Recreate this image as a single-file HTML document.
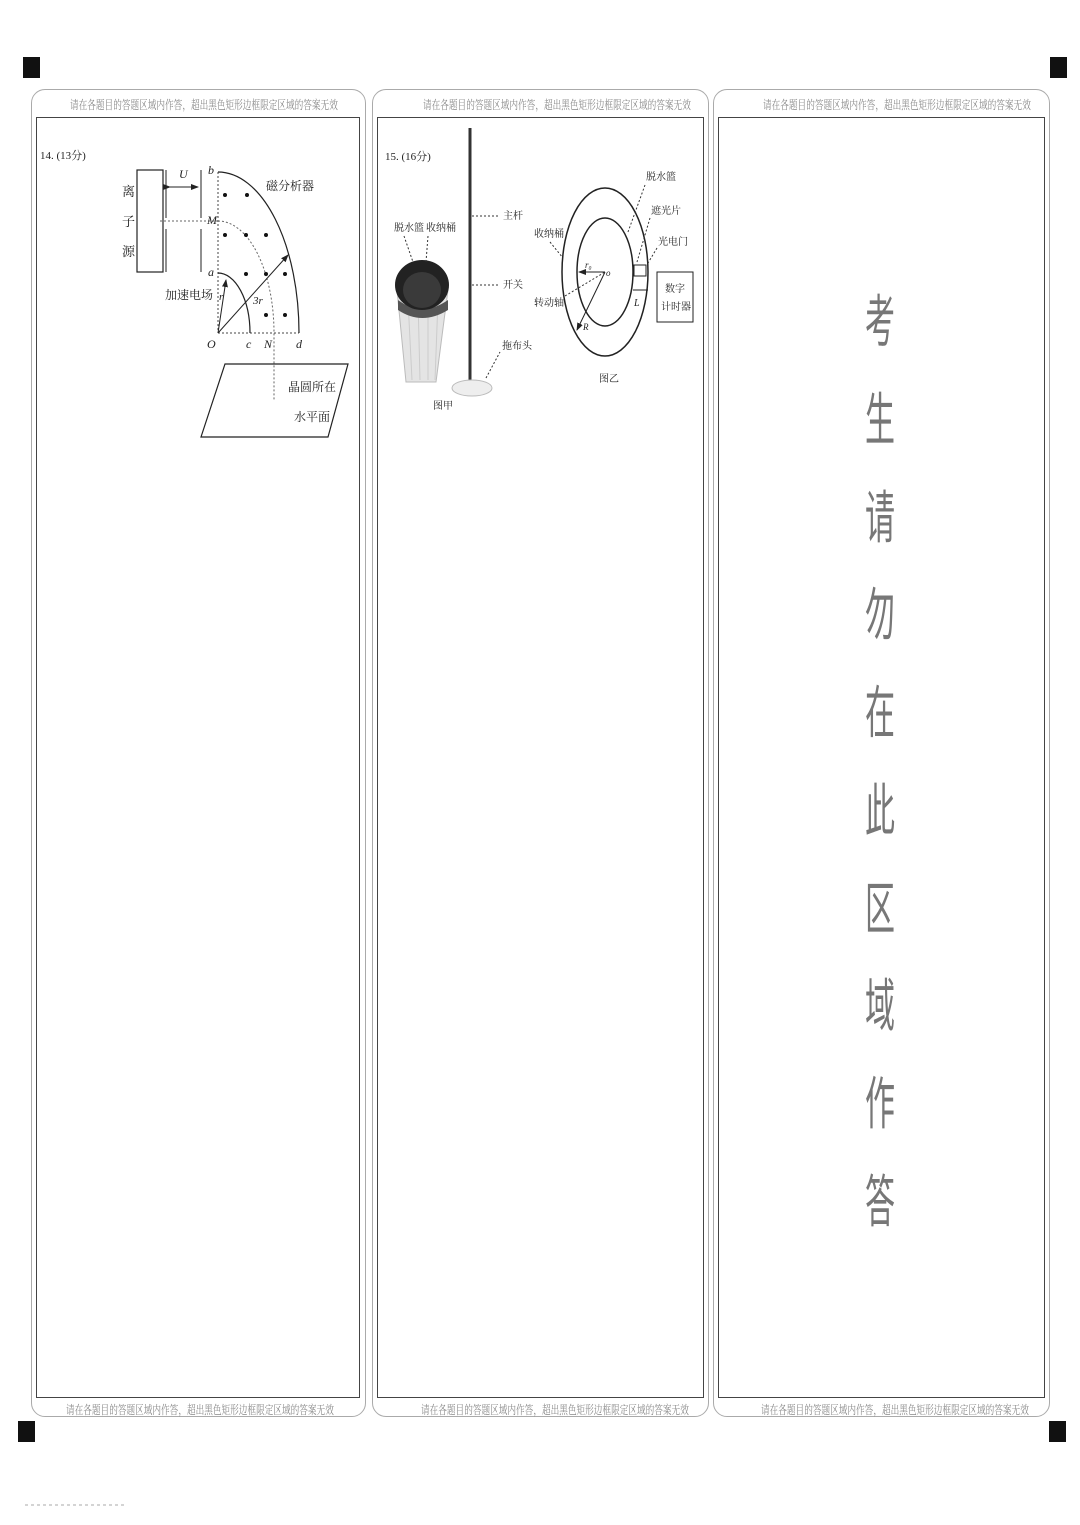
<!DOCTYPE html>
<html><head><meta charset="utf-8">
<style>
html,body{margin:0;padding:0;background:#fff;}
body{width:1080px;height:1525px;position:relative;overflow:hidden;font-family:"Liberation Serif","Noto Serif CJK SC","Noto Sans CJK SC",serif;}
.sq{position:absolute;background:#111;width:17px;height:21px;}
.outer{position:absolute;border:1.5px solid #aaa;border-radius:14px;}
.inner{position:absolute;border:1.5px solid #444;}
.hd{position:absolute;font-size:12px;color:#888;white-space:nowrap;transform-origin:0 0;transform:scaleX(0.72);}
.big{position:absolute;left:864px;width:32px;text-align:center;font-family:"Noto Sans CJK SC",sans-serif;font-size:30px;color:#777;transform:scaleY(1.9);transform-origin:50% 50%;line-height:30px;}
</style></head><body>
<div class="sq" style="left:23px;top:57px"></div>
<div class="sq" style="left:1050px;top:57px"></div>
<div class="sq" style="left:18px;top:1421px"></div>
<div class="sq" style="left:1049px;top:1421px"></div>

<div class="outer" style="left:31px;top:89px;width:333px;height:1326px"></div>
<div class="inner" style="left:36px;top:117px;width:322px;height:1279px"></div>
<div class="outer" style="left:372px;top:89px;width:335px;height:1326px"></div>
<div class="inner" style="left:377px;top:117px;width:325px;height:1279px"></div>
<div class="outer" style="left:713px;top:89px;width:335px;height:1326px"></div>
<div class="inner" style="left:718px;top:117px;width:325px;height:1279px"></div>

<div class="hd" style="left:70px;top:96px">请在各题目的答题区域内作答，超出黑色矩形边框限定区域的答案无效</div>
<div class="hd" style="left:423px;top:96px">请在各题目的答题区域内作答，超出黑色矩形边框限定区域的答案无效</div>
<div class="hd" style="left:763px;top:96px">请在各题目的答题区域内作答，超出黑色矩形边框限定区域的答案无效</div>
<div class="hd" style="left:66px;top:1401px">请在各题目的答题区域内作答，超出黑色矩形边框限定区域的答案无效</div>
<div class="hd" style="left:421px;top:1401px">请在各题目的答题区域内作答，超出黑色矩形边框限定区域的答案无效</div>
<div class="hd" style="left:761px;top:1401px">请在各题目的答题区域内作答，超出黑色矩形边框限定区域的答案无效</div>

<div class="big" style="top:302px">考</div>
<div class="big" style="top:400px">生</div>
<div class="big" style="top:498px">请</div>
<div class="big" style="top:595px">勿</div>
<div class="big" style="top:693px">在</div>
<div class="big" style="top:791px">此</div>
<div class="big" style="top:889px">区</div>
<div class="big" style="top:986px">域</div>
<div class="big" style="top:1084px">作</div>
<div class="big" style="top:1182px">答</div>

<svg style="position:absolute;left:0;top:0" width="1080" height="1525">
<defs>
<marker id="ar" markerWidth="8" markerHeight="8" refX="7" refY="4" orient="auto"><path d="M0,1 L8,4 L0,7 z" fill="#222"/></marker>
</defs>
<line x1="25" y1="1505" x2="125" y2="1505" stroke="#aaa" stroke-dasharray="3,3"/>
<g font-family="Liberation Serif,Noto Serif CJK SC,serif" fill="#222" font-size="11">
<text x="40" y="159">14. (13分)</text>
<rect x="137" y="170" width="26" height="102" fill="none" stroke="#222" stroke-width="1.2"/>
<line x1="166" y1="170" x2="166" y2="218" stroke="#222"/><line x1="166" y1="229" x2="166" y2="272" stroke="#222"/>
<line x1="201" y1="170" x2="201" y2="218" stroke="#222"/><line x1="201" y1="229" x2="201" y2="272" stroke="#222"/>
<line x1="170" y1="187" x2="198" y2="187" stroke="#222" marker-end="url(#ar)" marker-start="url(#ar)"/>
<text x="179" y="178" font-style="italic" font-size="12">U</text>
<text x="122" y="196" font-size="13">离</text><text x="122" y="226" font-size="13">子</text><text x="122" y="256" font-size="13">源</text>
<text x="165" y="299" font-size="12">加速电场</text>
<text x="266" y="190" font-size="12">磁分析器</text>
<line x1="218" y1="172" x2="218" y2="333" stroke="#444" stroke-dasharray="2,2"/>
<line x1="218" y1="333" x2="299" y2="333" stroke="#444" stroke-dasharray="2,2"/>
<line x1="160" y1="221" x2="218" y2="221" stroke="#666" stroke-dasharray="2,2"/>
<path d="M218,172 A81,161 0 0 1 299,333" fill="none" stroke="#222" stroke-width="1.2"/>
<path d="M218,273 A32,60 0 0 1 250,333" fill="none" stroke="#222" stroke-width="1.2"/>
<path d="M218,221 A56,112 0 0 1 274,333 L274,400" fill="none" stroke="#666" stroke-dasharray="2,2"/>
<g fill="#111">
<circle cx="225" cy="195" r="2"/><circle cx="247" cy="195" r="2"/>
<circle cx="225" cy="235" r="2"/><circle cx="246" cy="235" r="2"/><circle cx="266" cy="235" r="2"/>
<circle cx="246" cy="274" r="2"/><circle cx="266" cy="274" r="2"/><circle cx="285" cy="274" r="2"/>
<circle cx="266" cy="315" r="2"/><circle cx="285" cy="315" r="2"/>
</g>
<line x1="218" y1="333" x2="226" y2="280" stroke="#222" marker-end="url(#ar)"/>
<line x1="218" y1="333" x2="288" y2="255" stroke="#222" marker-end="url(#ar)"/>
<text x="219" y="300" font-style="italic">r</text><text x="253" y="304" font-style="italic">3r</text>
<g font-style="italic" font-size="12">
<text x="208" y="174">b</text><text x="207" y="224">M</text><text x="208" y="276">a</text>
<text x="207" y="348">O</text><text x="246" y="348">c</text><text x="264" y="348">N</text><text x="296" y="348">d</text>
</g>
<polygon points="225,364 348,364 328,437 201,437" fill="none" stroke="#222" stroke-width="1.2"/>
<text x="288" y="391" font-size="12">晶圆所在</text><text x="294" y="421" font-size="12">水平面</text>

<text x="385" y="160">15. (16分)</text>
<line x1="470" y1="128" x2="470" y2="385" stroke="#333" stroke-width="3"/>
<line x1="472" y1="216" x2="500" y2="216" stroke="#333" stroke-dasharray="2,2"/><text x="503" y="219" font-size="10">主杆</text>
<line x1="472" y1="285" x2="500" y2="285" stroke="#333" stroke-dasharray="2,2"/><text x="503" y="288" font-size="10">开关</text>
<ellipse cx="472" cy="388" rx="20" ry="8" fill="#eee" stroke="#bbb"/>
<line x1="486" y1="378" x2="500" y2="352" stroke="#333" stroke-dasharray="2,2"/><text x="502" y="349" font-size="10">拖布头</text>
<path d="M397,290 L406,382 L436,382 L448,290 z" fill="#e4e4e4" stroke="#bbb"/>
<g stroke="#ccc"><line x1="408" y1="300" x2="412" y2="380"/><line x1="418" y1="300" x2="420" y2="380"/><line x1="428" y1="300" x2="428" y2="380"/><line x1="438" y1="300" x2="435" y2="380"/></g>
<path d="M398,300 Q422,318 448,300 L448,310 Q422,326 398,310 z" fill="#555"/>
<ellipse cx="422" cy="285" rx="27" ry="25" fill="#222"/>
<ellipse cx="422" cy="290" rx="19" ry="18" fill="#3a3a3a"/>
<text x="394" y="231" font-size="10">脱水篮</text><text x="426" y="231" font-size="10">收纳桶</text>
<line x1="404" y1="236" x2="413" y2="262" stroke="#333" stroke-dasharray="2,2"/>
<line x1="428" y1="236" x2="426" y2="262" stroke="#333" stroke-dasharray="2,2"/>
<text x="433" y="409" font-size="10">图甲</text>
<ellipse cx="605" cy="272" rx="43" ry="84" fill="none" stroke="#222" stroke-width="1.5"/>
<ellipse cx="605" cy="272" rx="28" ry="54" fill="none" stroke="#222" stroke-width="1.5"/>
<line x1="605" y1="272" x2="579" y2="272" stroke="#222" marker-end="url(#ar)"/>
<line x1="605" y1="272" x2="577" y2="330" stroke="#222" marker-end="url(#ar)"/>
<text x="585" y="268" font-size="9" font-style="italic">r₀</text><text x="606" y="276" font-size="9" font-style="italic">o</text>
<text x="583" y="330" font-size="9" font-style="italic">R</text>
<rect x="634" y="265" width="12" height="11" fill="none" stroke="#222"/>
<line x1="633" y1="290" x2="648" y2="290" stroke="#222"/>
<text x="634" y="306" font-size="10" font-style="italic">L</text>
<rect x="657" y="272" width="36" height="50" fill="none" stroke="#222"/>
<text x="665" y="292" font-size="10">数字</text><text x="661" y="310" font-size="10">计时器</text>
<text x="646" y="180" font-size="10">脱水篮</text><line x1="645" y1="185" x2="628" y2="232" stroke="#333" stroke-dasharray="2,2"/>
<text x="651" y="214" font-size="10">遮光片</text><line x1="650" y1="218" x2="637" y2="262" stroke="#333" stroke-dasharray="2,2"/>
<text x="658" y="245" font-size="10">光电门</text><line x1="657" y1="248" x2="648" y2="263" stroke="#333" stroke-dasharray="2,2"/>
<text x="534" y="237" font-size="10">收纳桶</text><line x1="550" y1="242" x2="563" y2="258" stroke="#333" stroke-dasharray="2,2"/>
<text x="534" y="306" font-size="10">转动轴</text><line x1="565" y1="296" x2="605" y2="272" stroke="#333" stroke-dasharray="2,2"/>
<text x="599" y="382" font-size="10">图乙</text>
</g>
</svg>
</body></html>
